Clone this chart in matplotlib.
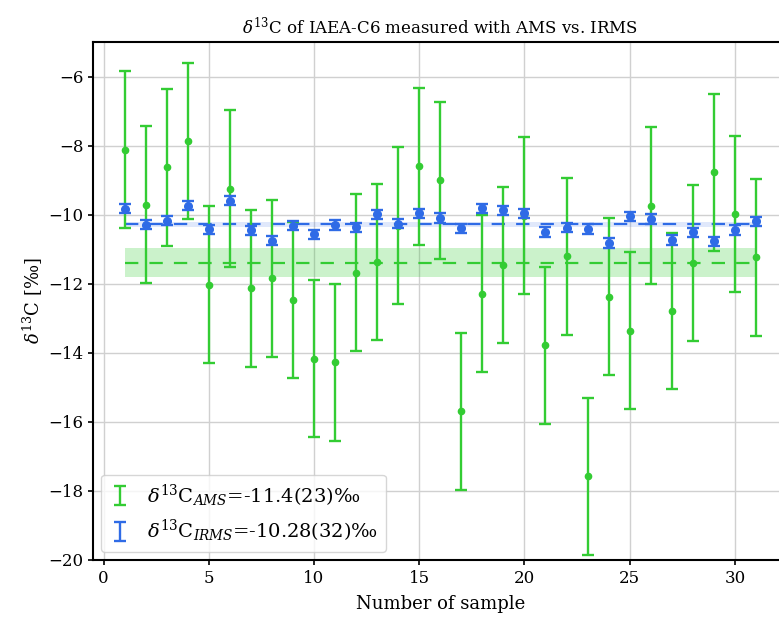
import matplotlib
matplotlib.use("Agg")
import matplotlib.pyplot as plt
import numpy as np

plt.rcParams["font.family"] = ["DejaVu Serif"]
plt.rcParams["mathtext.fontset"] = "dejavuserif"

# sample numbers
samples = list(range(1, 32))

# delta13C measured with AMS (permil), 1 sigma error
ams = [-8.12, -9.71, -8.63, -7.87, -12.03, -9.25, -12.13, -11.84, -12.47, -14.17,
       -14.28, -11.68, -11.37, -10.32, -8.60, -9.00, -15.69, -12.29, -11.46, -10.03,
       -13.78, -11.21, -17.58, -12.38, -13.36, -9.74, -12.79, -11.40, -8.77, -9.98,
       -11.24]
ams_err = 2.27

# delta13C measured with IRMS (permil)
irms = [-9.83, -10.29, -10.17, -9.74, -10.43, -9.60, -10.45, -10.75, -10.32, -10.57,
        -10.30, -10.37, -9.99, -10.26, -9.96, -10.10, -10.40, -9.82, -9.88, -9.96,
        -10.50, -10.38, -10.42, -10.82, -10.05, -10.13, -10.73, -10.51, -10.77, -10.44,
        -10.19]
irms_err = 0.135

ams_mean, ams_band = -11.39, 0.42
irms_mean, irms_band = -10.28, 0.065

green = "#33cc33"
blue = "#2f6be6"

fig = plt.figure(figsize=(7.79, 6.2), dpi=100)
ax = fig.add_axes([0.1194, 0.0968, 0.8915, 0.8355])

ax.grid(True, color="#d0d0d0", lw=1.0, zorder=0)
ax.set_axisbelow(True)

ax.fill_between([samples[0], samples[-1]], ams_mean - ams_band, ams_mean + ams_band,
                color=green, alpha=0.25, lw=0, zorder=1)
ax.fill_between([samples[0], samples[-1]], irms_mean - irms_band, irms_mean + irms_band,
                color=blue, alpha=0.15, lw=0, zorder=1)

ax.errorbar(samples, ams, yerr=ams_err, fmt="none", ecolor=green, elinewidth=1.7,
            capsize=4.5, capthick=1.7, zorder=3,
            label=r"$\delta^{13}$C$_{AMS}$=-11.4(23)‰")
ax.plot(samples, ams, "o", color=green, ms=4.5, zorder=3)
ax.plot([samples[0], samples[-1]], [ams_mean, ams_mean], color=green, lw=1.6,
        dashes=(6, 5), zorder=2)

ax.errorbar(samples, irms, yerr=irms_err, fmt="none", ecolor=blue, elinewidth=1.7,
            capsize=4.5, capthick=1.7, zorder=4,
            label=r"$\delta^{13}$C$_{IRMS}$=-10.28(32)‰")
ax.plot(samples, irms, "o", color=blue, ms=5.5, zorder=4)
ax.plot([samples[0], samples[-1]], [irms_mean, irms_mean], color=blue, lw=1.6,
        dashes=(6, 5), zorder=2)

ax.set_xlim(-0.5, 32.5)
ax.set_ylim(-20, -5)
ax.set_xticks([0, 5, 10, 15, 20, 25, 30])
ax.set_yticks(np.arange(-20, -5, 2))
ax.tick_params(labelsize=12, width=1.2)
for s in ax.spines.values():
    s.set_linewidth(1.5)

ax.set_title(r"$\delta^{13}$C of IAEA-C6 measured with AMS vs. IRMS", fontsize=12)
ax.set_xlabel("Number of sample", fontsize=13, labelpad=6)
ax.set_ylabel(r"$\delta^{13}$C [‰]", fontsize=13, labelpad=2)
ax.legend(loc="lower left", fontsize=14, handlelength=1.2, borderaxespad=0.4)

fig.savefig("out.png", dpi=100)
